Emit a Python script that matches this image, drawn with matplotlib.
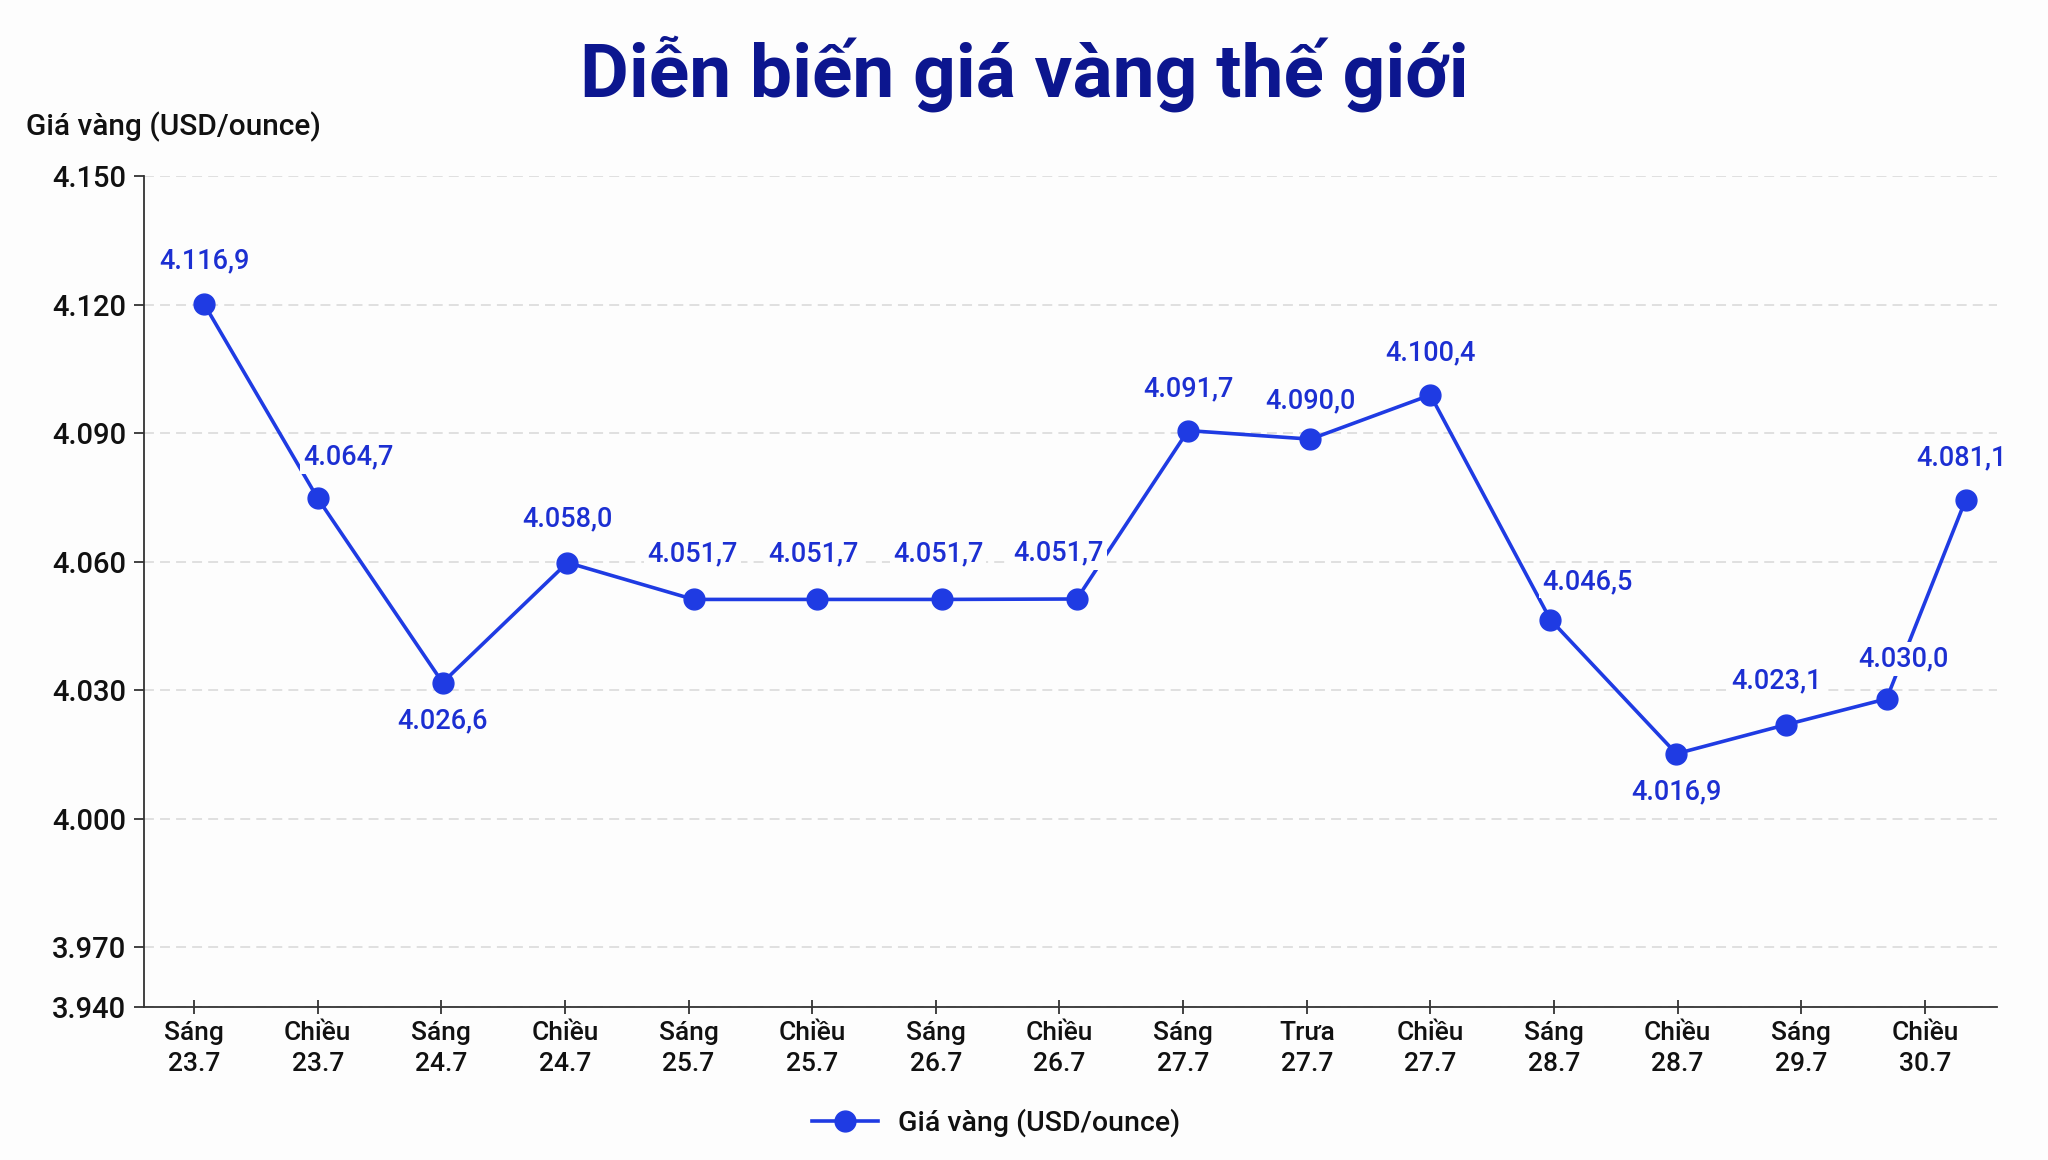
import matplotlib.pyplot as plt
from matplotlib.ticker import FixedLocator

plt.switch_backend("Agg")
plt.rcParams["font.family"] = ["Roboto", "DejaVu Sans"]

# ---- data ------------------------------------------------------------------
categories = [
    "Sáng\n23.7", "Chiều\n23.7", "Sáng\n24.7", "Chiều\n24.7", "Sáng\n25.7",
    "Chiều\n25.7", "Sáng\n26.7", "Chiều\n26.7", "Sáng\n27.7", "Trưa\n27.7",
    "Chiều\n27.7", "Sáng\n28.7", "Chiều\n28.7", "Sáng\n29.7", "Chiều\n30.7",
]
# where the markers sit (in category units / USD), as drawn in the source
point_x = [0.08, 1.0, 2.01, 3.02, 4.04, 5.04, 6.05, 7.14,
           8.04, 9.03, 10.0, 10.97, 11.99, 12.88, 13.69, 14.33]
point_y = [4120.2, 4074.8, 4031.8, 4059.8, 4051.2, 4051.2, 4051.2, 4051.3,
           4090.6, 4088.6, 4098.9, 4046.5, 4015.2, 4022.0, 4028.0, 4074.5]
value_labels = ["4.116,9", "4.064,7", "4.026,6", "4.058,0", "4.051,7",
                "4.051,7", "4.051,7", "4.051,7", "4.091,7", "4.090,0",
                "4.100,4", "4.046,5", "4.016,9", "4.023,1", "4.030,0",
                "4.081,1"]
y_ticks = [3956.1, 3970, 4000, 4030, 4060, 4090, 4120, 4150]
y_tick_labels = ["3.940", "3.970", "4.000", "4.030", "4.060", "4.090",
                 "4.120", "4.150"]

title = "Diễn biến giá vàng thế giới"
series_name = "Giá vàng (USD/ounce)"

# ---- styling ----------------------------------------------------------------
LINE_BLUE = "#1f3be3"
LABEL_BLUE = "#1c2fd2"
TITLE_BLUE = "#0c168f"
TEXT = "#111111"

# label offsets from each marker, in output pixels
label_offsets_px = [(0, 43), (31, 41), (0, -38), (0, 44), (-1, 46), (-4, 46),
                    (-4, 46), (-18, 46), (0, 42), (0, 38), (0, 42), (37, 38),
                    (0, -38), (-10, 44), (17, 40), (-4, 42)]

W, H, DPI = 2048, 1160, 100


def px(value):
    """Convert output pixels to points."""
    return value * 72 / DPI


fig = plt.figure(figsize=(W / DPI, H / DPI), dpi=DPI, facecolor="#fdfdfd")
ax = fig.add_axes([144 / W, 1 - 1007 / H, (1997 - 144) / W, (1007 - 176) / H])
ax.set_facecolor("#fdfdfd")

ax.plot(point_x, point_y, color=LINE_BLUE, linewidth=2.6, marker="o",
        markersize=15, markerfacecolor=LINE_BLUE, markeredgecolor=LINE_BLUE,
        zorder=3, label=series_name, clip_on=False)

for x, y, text, (dx, dy) in zip(point_x, point_y, value_labels, label_offsets_px):
    ax.annotate(text, (x, y), xytext=(px(dx), px(dy)), textcoords="offset points",
                ha="center", va="center", fontsize=19.5, fontweight="medium",
                color=LABEL_BLUE,
                bbox=dict(boxstyle="square,pad=0.12", fc="#fdfdfd", ec="none"),
                zorder=4)

ax.set_xlim(-0.405, 14.583)
ax.set_ylim(y_ticks[0], y_ticks[-1])
ax.set_xticks(range(len(categories)))
ax.set_xticklabels(categories, fontsize=19, color=TEXT, linespacing=1.35,
                   fontweight="medium")
ax.yaxis.set_major_locator(FixedLocator(y_ticks))
ax.set_yticklabels(y_tick_labels, fontsize=21, color=TEXT, fontweight="medium")

ax.tick_params(axis="y", direction="out", length=7, width=1.3, pad=6,
               color="#333333")
ax.tick_params(axis="x", direction="inout", length=10, width=1.3, pad=5,
               color="#333333")

ax.grid(axis="y", color="#d8d8d8", linewidth=1.1, linestyle=(0, (6.5, 4)))
ax.set_axisbelow(True)
for side in ("top", "right"):
    ax.spines[side].set_visible(False)
for side in ("left", "bottom"):
    ax.spines[side].set_linewidth(1.3)
    ax.spines[side].set_color("#333333")

fig.text(0.5, 1 - 74 / H, title, ha="center", va="center", fontsize=54,
         fontweight="bold", color=TITLE_BLUE)
fig.text(26 / W, 1 - 127 / H, series_name, ha="left", va="center",
         fontsize=21.5, color=TEXT, fontweight="medium")

fig.legend(loc="center", bbox_to_anchor=(996 / W, 1 - 1123 / H), frameon=False,
           prop={"size": 20.5, "weight": "medium"}, handlelength=2.3,
           handletextpad=0.7, labelcolor=TEXT)

fig.savefig("out.png", dpi=DPI, facecolor=fig.get_facecolor())
